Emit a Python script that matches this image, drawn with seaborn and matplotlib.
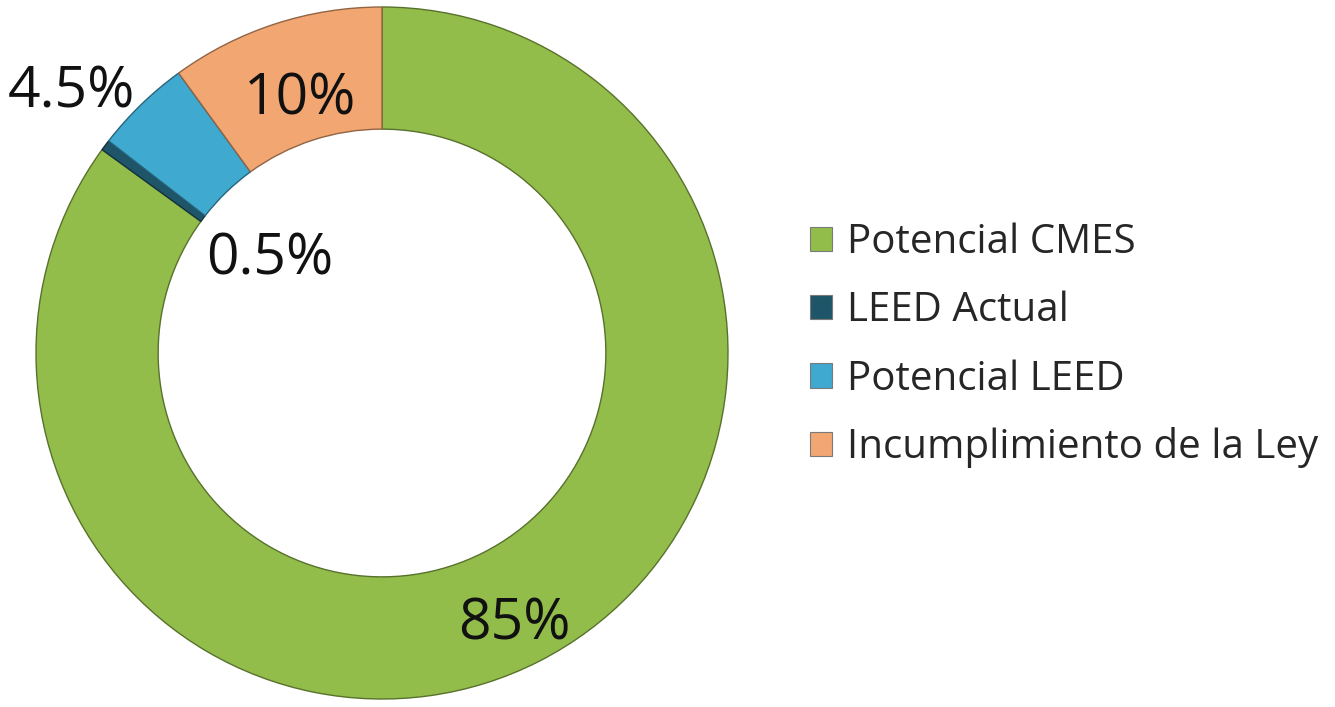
import numpy as np
import matplotlib
matplotlib.use("Agg")
import matplotlib.pyplot as plt
import matplotlib.colors as mcolors
from matplotlib.patches import Patch
import seaborn as sns

categories = ["Potencial CMES", "LEED Actual", "Potencial LEED", "Incumplimiento de la Ley"]
values = [85, 0.5, 4.5, 10]
labels = ["85%", "0.5%", "4.5%", "10%"]
colors = ["#93BD4A", "#1F5568", "#3FA9CF", "#F2A672"]

sns.set_theme(style="white")
plt.rcParams["font.family"] = ["Open Sans", "DejaVu Sans"]

W, H = 1335, 707
cx, cy, R = 382, 353, 346
fig = plt.figure(figsize=(W / 100, H / 100), dpi=100)
ax = fig.add_axes([0, 0, 1, 1])

wedges, _ = ax.pie(values, colors=colors, startangle=90, counterclock=False,
                   radius=1.0, wedgeprops=dict(width=0.353, linewidth=1.0))
for w, c in zip(wedges, colors):
    rgb = np.array(mcolors.to_rgb(c)) * 0.6
    w.set_edgecolor(rgb)

ax.set_xlim(-cx / R, (W - cx) / R)
ax.set_ylim(-(H - cy) / R, cy / R)
ax.set_aspect("equal")
ax.axis("off")

# label placement (radius, angle offset in degrees)
label_r = [0.875, 0.42, 1.17, 0.77]
label_da = [-1, -2.8, 6, 0]
start = 90.0
total = sum(values)
for v, lab, r, da in zip(values, labels, label_r, label_da):
    span = 360.0 * v / total
    mid = np.deg2rad(start - span / 2 + da)
    start -= span
    ax.text(r * np.cos(mid), r * np.sin(mid), lab, ha="center", va="center",
            fontsize=41, color="#111111")

handles = [Patch(facecolor=c, edgecolor="#7a7a7a", linewidth=0.8) for c in colors]
leg = ax.legend(handles, categories, loc="center left", bbox_to_anchor=(810 / W, 1 - 345.5 / H),
                bbox_transform=fig.transFigure, frameon=False, fontsize=29,
                handlelength=0.55, handleheight=0.55, handletextpad=0.36,
                labelspacing=0.69, borderpad=0, borderaxespad=0)

fig.savefig("out.png", dpi=100, facecolor="white")
